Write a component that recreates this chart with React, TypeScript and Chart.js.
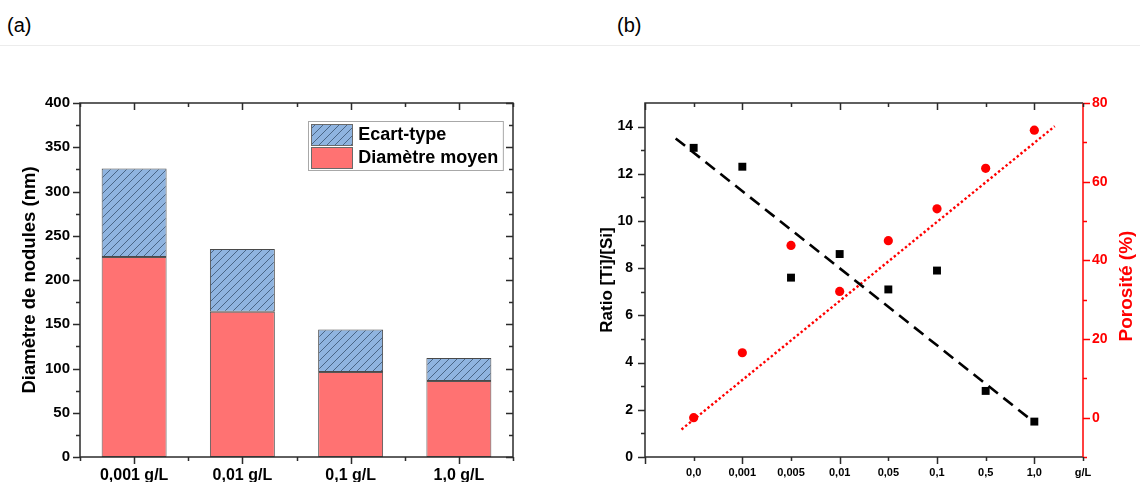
import React, { useEffect, useRef } from "react";
import { Chart, registerables } from "chart.js";

Chart.register(...registerables);

const FONT = "'Liberation Sans', Arial, Helvetica, sans-serif";
const AXIS_COLOR = "#2b2b2b";
const RED = "#FF0000";

// ---------- Panel (a) data ----------
const concentrationsA = ["0,001 g/L", "0,01 g/L", "0,1 g/L", "1,0 g/L"];
const meanDiameter = [226, 164, 96, 86];
const stdDeviation = [100, 71, 48, 26];
const yMajorA = [0, 50, 100, 150, 200, 250, 300, 350, 400];
const yMinorA = [25, 75, 125, 175, 225, 275, 325, 375];
const legendLabelsA = ["Ecart-type", "Diamètre moyen"];

// ---------- Panel (b) data ----------
const concentrationsB = ["0,0", "0,001", "0,005", "0,01", "0,05", "0,1", "0,5", "1,0"];
const xUnitB = "g/L";
const ratioTiSi = [13.1, 12.3, 7.6, 8.6, 7.1, 7.9, 2.8, 1.5];
const porosity = [0, 16.5, 43.8, 32.1, 45.0, 53.1, 63.4, 73.1];
const ratioFitX = [-0.37, 6.9];
const ratioFitY = [13.5, 1.63];
const porosityFitX = [-0.25, 7.42];
const porosityFitY = [-3.0, 74.1];
const yMajorB = [0, 2, 4, 6, 8, 10, 12, 14];
const yMinorB = [1, 3, 5, 7, 9, 11, 13];
const y1MajorB = [0, 20, 40, 60, 80];
const y1MinorB = [-10, 10, 30, 50, 70];
const xMajorB = [-1, 1, 3, 5, 7];
const xMinorB = [0, 2, 4, 6, 8];

function makeHatch(): CanvasPattern | string {
  const c = document.createElement("canvas");
  c.width = 8;
  c.height = 8;
  const g = c.getContext("2d");
  if (!g) return "#8FB4E0";
  g.fillStyle = "#8FB4E0";
  g.fillRect(0, 0, 8, 8);
  g.strokeStyle = "#4A6686";
  g.lineWidth = 1;
  g.beginPath();
  g.moveTo(-1, 9);
  g.lineTo(9, -1);
  g.moveTo(-1, 1);
  g.lineTo(1, -1);
  g.moveTo(7, 9);
  g.lineTo(9, 7);
  g.stroke();
  return g.createPattern(c, "repeat") || "#8FB4E0";
}

type TickSpec = { v: number; len: number };

function vTicks(ctx: CanvasRenderingContext2D, scale: any, x: number, dir: number, specs: TickSpec[], color: string) {
  ctx.save();
  ctx.strokeStyle = color;
  ctx.lineWidth = 1.5;
  ctx.beginPath();
  for (const s of specs) {
    const y = Math.round(scale.getPixelForValue(s.v)) + 0.5;
    ctx.moveTo(x, y);
    ctx.lineTo(x + dir * s.len, y);
  }
  ctx.stroke();
  ctx.restore();
}

function hTicks(ctx: CanvasRenderingContext2D, scale: any, y: number, dir: number, specs: TickSpec[], color: string) {
  ctx.save();
  ctx.strokeStyle = color;
  ctx.lineWidth = 1.5;
  ctx.beginPath();
  for (const s of specs) {
    const x = Math.round(scale.getPixelForValue(s.v)) + 0.5;
    ctx.moveTo(x, y);
    ctx.lineTo(x, y + dir * s.len);
  }
  ctx.stroke();
  ctx.restore();
}

const MAJ = 7;
const MIN = 4;

const framePluginA = {
  id: "frameA",
  afterDraw(chart: any) {
    const { ctx, chartArea: a, scales } = chart;
    const { left, right, top, bottom } = a;
    ctx.save();
    ctx.strokeStyle = AXIS_COLOR;
    ctx.lineWidth = 1.5;
    ctx.strokeRect(left, top, right - left, bottom - top);
    ctx.restore();
    const ySpecs = [
      ...yMajorA.map((v) => ({ v, len: MAJ })),
      ...yMinorA.map((v) => ({ v, len: MIN })),
    ];
    vTicks(ctx, scales.y, left, -1, ySpecs, AXIS_COLOR);
    vTicks(ctx, scales.y, right, -1, ySpecs, AXIS_COLOR);
    const xSpecs = [
      ...concentrationsA.map((_, i) => ({ v: i, len: MAJ })),
      ...concentrationsA.map((_, i) => ({ v: i + 0.5, len: MIN })),
      { v: -0.5, len: MIN },
    ];
    hTicks(ctx, scales.x, bottom, 1, xSpecs, AXIS_COLOR);
    hTicks(ctx, scales.x, top, 1, xSpecs, AXIS_COLOR);

    // legend
    const ds = chart.data.datasets;
    const order = [1, 0];
    const boxL = left + (right - left) * 0.527;
    const boxR = left + (right - left) * 0.977;
    const boxT = top + 18;
    const boxB = top + 67;
    ctx.save();
    ctx.fillStyle = "#ffffff";
    ctx.fillRect(boxL, boxT, boxR - boxL, boxB - boxT);
    ctx.strokeStyle = "#a8a8a8";
    ctx.lineWidth = 1;
    ctx.strokeRect(Math.round(boxL) + 0.5, Math.round(boxT) + 0.5, boxR - boxL, boxB - boxT);
    ctx.font = "bold 18px " + FONT;
    ctx.textBaseline = "middle";
    ctx.textAlign = "left";
    order.forEach((di, k) => {
      const sy = boxT + 3 + k * 23;
      ctx.fillStyle = ds[di].backgroundColor;
      ctx.fillRect(boxL + 3, sy, 41, 21);
      ctx.strokeStyle = "#6a6a6a";
      ctx.strokeRect(Math.round(boxL + 3) + 0.5, Math.round(sy) + 0.5, 41, 21);
      ctx.fillStyle = "#000";
      ctx.fillText(legendLabelsA[k], boxL + 50, sy + 11.5);
    });
    ctx.restore();
  },
};

const framePluginB = {
  id: "frameB",
  afterDraw(chart: any) {
    const { ctx, chartArea: a, scales } = chart;
    const { left, right, top, bottom } = a;
    ctx.save();
    ctx.strokeStyle = AXIS_COLOR;
    ctx.lineWidth = 1.5;
    ctx.beginPath();
    ctx.moveTo(right, top);
    ctx.lineTo(left, top);
    ctx.lineTo(left, bottom);
    ctx.lineTo(right, bottom);
    ctx.stroke();
    ctx.strokeStyle = RED;
    ctx.beginPath();
    ctx.moveTo(right, top);
    ctx.lineTo(right, bottom);
    ctx.stroke();
    ctx.restore();

    vTicks(ctx, scales.y, left, -1, [
      ...yMajorB.map((v) => ({ v, len: MAJ })),
      ...yMinorB.map((v) => ({ v, len: MIN })),
    ], AXIS_COLOR);
    vTicks(ctx, scales.y1, right, 1, [
      ...y1MajorB.map((v) => ({ v, len: MAJ })),
      ...y1MinorB.map((v) => ({ v, len: MIN })),
    ], RED);
    const xSpecs = [
      ...xMajorB.map((v) => ({ v, len: MAJ })),
      ...xMinorB.map((v) => ({ v, len: MIN })),
    ];
    hTicks(ctx, scales.x, bottom, 1, xSpecs, AXIS_COLOR);
    hTicks(ctx, scales.x, top, 1, xSpecs, AXIS_COLOR);

    // right axis title (reads bottom to top)
    ctx.save();
    ctx.fillStyle = RED;
    ctx.font = "bold 19px " + FONT;
    ctx.textAlign = "center";
    ctx.textBaseline = "middle";
    ctx.translate(right + 44, (top + bottom) / 2 + 6);
    ctx.rotate(-Math.PI / 2);
    ctx.fillText("Porosité (%)", 0, 0);
    ctx.restore();
  },
};

function PanelA() {
  const ref = useRef<HTMLCanvasElement>(null);
  useEffect(() => {
    if (!ref.current) return;
    const hatch = makeHatch();
    const chart = new Chart(ref.current, {
      type: "bar",
      data: {
        labels: concentrationsA,
        datasets: [
          {
            label: legendLabelsA[1],
            data: meanDiameter,
            backgroundColor: "#FF7272",
            borderColor: "#555555",
            borderWidth: 1,
            borderSkipped: false,
            barPercentage: 0.6,
            categoryPercentage: 1,
          },
          {
            label: legendLabelsA[0],
            data: stdDeviation,
            backgroundColor: hatch as any,
            borderColor: "#4a4a4a",
            borderWidth: 1,
            borderSkipped: false,
            barPercentage: 0.6,
            categoryPercentage: 1,
          },
        ],
      },
      options: {
        responsive: false,
        animation: false,
        events: [],
        layout: { padding: { left: 0, right: 57, top: 103, bottom: 0 } },
        plugins: { legend: { display: false }, tooltip: { enabled: false } },
        scales: {
          x: {
            stacked: true,
            offset: true,
            grid: { display: false, drawTicks: false },
            border: { display: false },
            ticks: {
              color: "#000",
              padding: 9,
              maxRotation: 0,
              font: { family: FONT, size: 16, weight: "bold" },
            },
            afterFit: (s: any) => {
              s.height = 25;
            },
          },
          y: {
            stacked: true,
            min: 0,
            max: 400,
            grid: { display: false, drawTicks: false },
            border: { display: false },
            ticks: {
              stepSize: 50,
              color: "#000",
              padding: 10,
              font: { family: FONT, size: 15, weight: "bold" },
            },
            title: {
              display: true,
              text: "Diamètre de nodules (nm)",
              color: "#000",
              padding: { top: 19, bottom: 0 },
              font: { family: FONT, size: 18.5, weight: "bold" },
            },
            afterFit: (s: any) => {
              s.width = 80;
            },
          },
        },
      },
      plugins: [framePluginA],
    } as any);
    return () => chart.destroy();
  }, []);
  return <canvas ref={ref} width={570} height={482} style={{ position: "absolute", left: 0, top: 0 }} />;
}

function PanelB() {
  const ref = useRef<HTMLCanvasElement>(null);
  useEffect(() => {
    if (!ref.current) return;
    const chart = new Chart(ref.current, {
      type: "scatter",
      data: {
        datasets: [
          {
            label: "Ratio [Ti]/[Si]",
            data: ratioTiSi.map((v, i) => ({ x: i, y: v })),
            pointStyle: "rect",
            pointRadius: 5.6,
            backgroundColor: "#000",
            borderColor: "#000",
            borderWidth: 0,
            yAxisID: "y",
          },
          {
            label: "Porosité (%)",
            data: porosity.map((v, i) => ({ x: i, y: v })),
            pointStyle: "circle",
            pointRadius: 4.6,
            backgroundColor: RED,
            borderColor: RED,
            borderWidth: 0,
            yAxisID: "y1",
          },
          {
            type: "line",
            label: "fit ratio",
            data: ratioFitX.map((x, i) => ({ x, y: ratioFitY[i] })),
            borderColor: "#000",
            borderWidth: 2.6,
            borderDash: [12, 7],
            pointRadius: 0,
            fill: false,
            yAxisID: "y",
          },
          {
            type: "line",
            label: "fit porosity",
            data: porosityFitX.map((x, i) => ({ x, y: porosityFitY[i] })),
            borderColor: RED,
            borderWidth: 2.4,
            borderDash: [2.4, 2.4],
            pointRadius: 0,
            fill: false,
            yAxisID: "y1",
          },
        ],
      },
      options: {
        responsive: false,
        animation: false,
        events: [],
        layout: { padding: { left: 0, right: 0, top: 103, bottom: 0 } },
        plugins: { legend: { display: false }, tooltip: { enabled: false } },
        scales: {
          x: {
            type: "linear",
            min: -1,
            max: 8,
            grid: { display: false, drawTicks: false },
            border: { display: false },
            ticks: {
              stepSize: 1,
              autoSkip: false,
              maxRotation: 0,
              color: "#000",
              padding: 9,
              font: { family: FONT, size: 11, weight: "bold" },
              callback: (v: number) => {
                if (v >= 0 && v < concentrationsB.length) return concentrationsB[v];
                if (v === concentrationsB.length) return xUnitB;
                return "";
              },
            },
            afterFit: (s: any) => {
              s.height = 25;
            },
          },
          y: {
            position: "left",
            min: 0,
            max: 15,
            grid: { display: false, drawTicks: false },
            border: { display: false },
            ticks: {
              stepSize: 2,
              includeBounds: false,
              color: "#000",
              padding: 12,
              font: { family: FONT, size: 14, weight: "bold" },
            },
            title: {
              display: true,
              text: "Ratio [Ti]/[Si]",
              color: "#000",
              padding: { top: 27, bottom: 0 },
              font: { family: FONT, size: 17, weight: "bold" },
            },
            afterFit: (s: any) => {
              s.width = 75;
            },
          },
          y1: {
            position: "right",
            min: -10,
            max: 80,
            grid: { display: false, drawTicks: false },
            border: { display: false },
            ticks: {
              stepSize: 20,
              includeBounds: false,
              color: RED,
              padding: 9,
              font: { family: FONT, size: 14, weight: "bold" },
            },
            afterFit: (s: any) => {
              s.width = 57;
            },
          },
        },
      },
      plugins: [framePluginB],
    } as any);
    return () => chart.destroy();
  }, []);
  return <canvas ref={ref} width={570} height={482} style={{ position: "absolute", left: 570, top: 0 }} />;
}

export default function App() {
  const labelStyle: React.CSSProperties = {
    position: "absolute",
    top: 13,
    fontFamily: FONT,
    fontSize: 20,
    color: "#000",
    lineHeight: "24px",
  };
  return (
    <div
      style={{
        position: "absolute",
        left: 0,
        top: 0,
        width: 1140,
        height: 482,
        background: "#fff",
        overflow: "hidden",
      }}
    >
      <div style={{ position: "absolute", left: 0, top: 45, width: 1140, height: 1, background: "#ececec" }} />
      <div style={{ ...labelStyle, left: 7 }}>(a)</div>
      <div style={{ ...labelStyle, left: 617 }}>(b)</div>
      <PanelA />
      <PanelB />
    </div>
  );
}
